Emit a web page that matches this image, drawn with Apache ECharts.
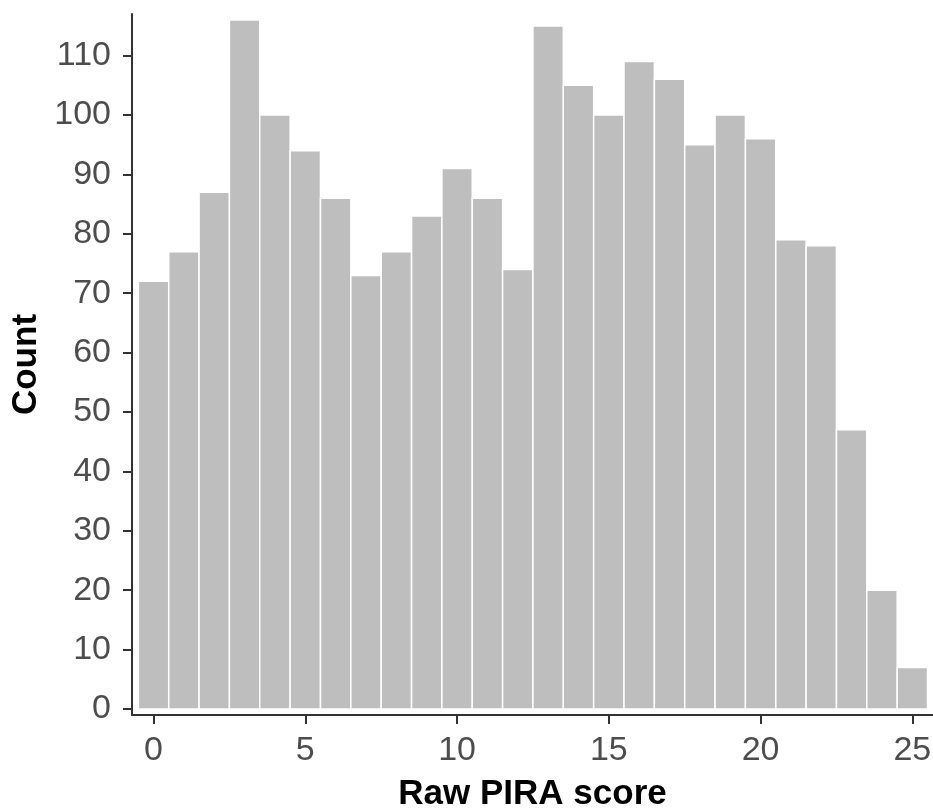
<!DOCTYPE html>
<html>
<head>
<meta charset="utf-8">
<script src="https://cdn.jsdelivr.net/npm/echarts@6/dist/echarts.min.js"></script>
<style>html,body{margin:0;padding:0;background:#fff;}#c{width:933px;height:810px;}</style>
</head>
<body>
<div id="c"></div>
<script>
const scores = [0,1,2,3,4,5,6,7,8,9,10,11,12,13,14,15,16,17,18,19,20,21,22,23,24,25];
const counts = [72,77,87,116,100,94,86,73,77,83,91,86,74,115,105,100,109,106,95,100,96,79,78,47,20,7];
const xTicks = [0,5,10,15,20,25];
const yTicks = [0,10,20,30,40,50,60,70,80,90,100,110];

const chart = echarts.init(document.getElementById('c'), null, {renderer:'canvas'});
const data = scores.map((s,i)=>[s, counts[i]]);
chart.setOption({
  animation:false,
  backgroundColor:'#fff',
  grid:{left:132, right:0, top:14, bottom:95, containLabel:false, outerBoundsMode:'none'},
  xAxis:{
    type:'value', min:-0.71, max:25.68,
    name:'Raw PIRA score', nameLocation:'middle', nameGap:62,
    nameTextStyle:{fontFamily:'Liberation Sans', fontSize:35, fontWeight:'bold', color:'#000'},
    axisLine:{show:true, onZero:false, lineStyle:{color:'#333', width:2}},
    axisTick:{show:true, length:9, customValues:xTicks, lineStyle:{color:'#333', width:2}},
    axisLabel:{customValues:xTicks, margin:19, fontFamily:'Liberation Sans', fontSize:34, color:'#4D4D4D'},
    splitLine:{show:false}
  },
  yAxis:{
    type:'value', min:-1, max:117,
    name:'Count', nameLocation:'middle', nameGap:86,
    nameTextStyle:{fontFamily:'Liberation Sans', fontSize:35, fontWeight:'bold', color:'#000'},
    axisLine:{show:true, onZero:false, lineStyle:{color:'#333', width:2}},
    axisTick:{show:true, length:9, customValues:yTicks, lineStyle:{color:'#333', width:2}},
    axisLabel:{customValues:yTicks, margin:21, fontFamily:'Liberation Sans', fontSize:34, color:'#4D4D4D'},
    splitLine:{show:false}
  },
  series:[{
    type:'custom',
    data:data,
    renderItem:function(params, api){
      const x = api.value(0), y = api.value(1);
      const p1 = api.coord([x-0.5, y]);
      const p2 = api.coord([x+0.5, 0]);
      return {
        type:'rect',
        shape:{x:p1[0], y:p1[1], width:p2[0]-p1[0], height:p2[1]-p1[1]},
        style:{fill:'#BEBEBE', stroke:'#FFFFFF', lineWidth:1.5}
      };
    }
  }]
});
</script>
</body>
</html>
